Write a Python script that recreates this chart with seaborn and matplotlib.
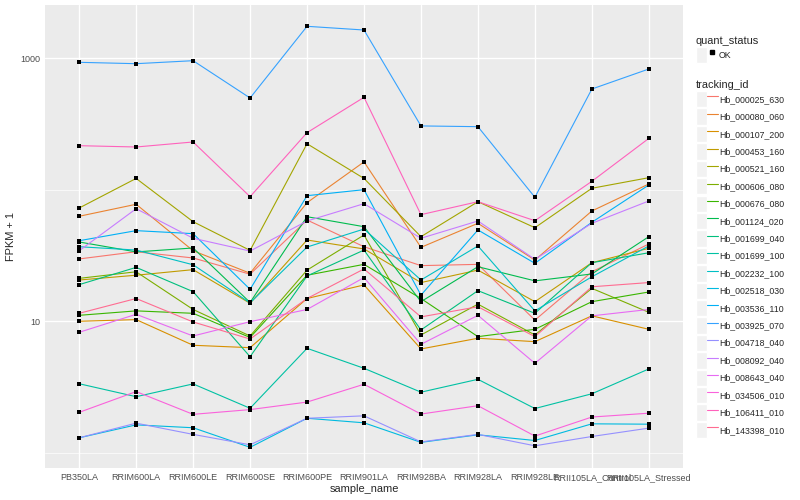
import pandas as pd
import matplotlib.pyplot as plt
import seaborn as sns
from matplotlib.lines import Line2D
from matplotlib.patches import Patch
from matplotlib.legend_handler import HandlerTuple
from matplotlib.ticker import FixedLocator, NullFormatter

# samples on the x axis
samples = ["PB350LA", "RRIM600LA", "RRIM600LE", "RRIM600SE", "RRIM600PE", "RRIM901LA",
           "RRIM928BA", "RRIM928LA", "RRIM928LE", "RRII105LA_Control", "RRII105LA_Stressed"]

tracking_ids = ["Hb_000025_630", "Hb_000080_060", "Hb_000107_200", "Hb_000453_160",
                "Hb_000521_160", "Hb_000606_080", "Hb_000676_080", "Hb_001124_020",
                "Hb_001699_040", "Hb_001699_100", "Hb_002232_100", "Hb_002518_030",
                "Hb_003536_110", "Hb_003925_070", "Hb_004718_040", "Hb_008092_040",
                "Hb_008643_040", "Hb_034506_010", "Hb_106411_010", "Hb_143398_010"]

# ggplot default hue palette for 20 levels
palette = ["#F8766D", "#EA8331", "#D89000", "#C09B00", "#A3A500", "#7CAE00", "#39B600",
           "#00BB4E", "#00BF7D", "#00C1A3", "#00BFC4", "#00BAE0", "#00B0F6", "#35A2FF",
           "#9590FF", "#C77CFF", "#E76BF3", "#FA62DB", "#FF62BC", "#FF6C91"]

# FPKM + 1 values, one list per gene (same order as samples)
hb_000025_630 = [29.8, 33.8, 30.3, 22.8, 58.9, 36.9, 26.5, 27.1, 10.2, 23.8, 38.7]
hb_000080_060 = [62.9, 77.6, 34.4, 23.2, 79.8, 163, 36.5, 55.6, 29.2, 69.0, 110.7]
hb_000107_200 = [10.0, 10.3, 6.57, 6.30, 14.9, 18.9, 6.16, 7.43, 7.0, 11.0, 8.69]
hb_000453_160 = [20.6, 22.4, 24.7, 13.7, 41.5, 35.5, 19.7, 24.5, 14.1, 27.9, 35.9]
hb_000521_160 = [72.7, 122, 57.2, 34.6, 224, 122, 44.0, 81.2, 51.5, 102.7, 123.6]
hb_000606_080 = [21.2, 23.8, 12.3, 7.73, 24.5, 45.3, 7.87, 13.5, 7.87, 17.8, 11.7]
hb_000676_080 = [11.1, 12.0, 11.5, 7.53, 22.4, 27.1, 14.9, 7.64, 8.69, 14.1, 16.7]
hb_001124_020 = [40.1, 33.7, 36.1, 13.9, 62.4, 52.4, 14.1, 26.0, 20.3, 22.9, 44.0]
hb_001699_040 = [19.0, 25.7, 16.8, 5.38, 22.1, 34.8, 8.59, 17.1, 11.5, 27.9, 33.2]
hb_001699_100 = [3.35, 2.67, 3.34, 2.18, 6.23, 4.39, 2.89, 3.62, 2.17, 2.81, 4.34]
hb_002232_100 = [36.9, 34.8, 26.9, 13.8, 36.7, 50.3, 20.6, 37.4, 12.0, 21.8, 37.4]
hb_002518_030 = [1.30, 1.63, 1.55, 1.10, 1.83, 1.69, 1.20, 1.37, 1.24, 1.66, 1.65]
hb_003536_110 = [41.0, 48.9, 46.4, 17.5, 90.2, 100.2, 15.8, 49.5, 27.6, 56.6, 108.8]
hb_003925_070 = [932, 910, 959, 499, 1751, 1641, 306, 302, 87.7, 584, 829]
hb_004718_040 = [1.30, 1.68, 1.38, 1.15, 1.83, 1.91, 1.21, 1.38, 1.13, 1.33, 1.54]
hb_008092_040 = [34.4, 71.8, 42.8, 34.2, 57.9, 78.4, 42.8, 57.9, 29.6, 55.6, 82.2]
hb_008643_040 = [8.25, 11.3, 7.73, 9.93, 12.3, 21.5, 6.68, 11.1, 4.79, 11.0, 12.3]
hb_034506_010 = [2.03, 2.92, 1.96, 2.13, 2.43, 3.32, 1.97, 2.28, 1.34, 1.87, 2.00]
hb_106411_010 = [216.5, 211.6, 231, 88.6, 272, 505, 64.7, 81.2, 58.2, 116, 246]
hb_143398_010 = [11.5, 14.9, 9.88, 7.33, 14.9, 25.0, 10.8, 12.9, 7.64, 18.3, 19.7]

series = [hb_000025_630, hb_000080_060, hb_000107_200, hb_000453_160, hb_000521_160,
          hb_000606_080, hb_000676_080, hb_001124_020, hb_001699_040, hb_001699_100,
          hb_002232_100, hb_002518_030, hb_003536_110, hb_003925_070, hb_004718_040,
          hb_008092_040, hb_008643_040, hb_034506_010, hb_106411_010, hb_143398_010]

rows = []
for tid, vals in zip(tracking_ids, series):
    for s, v in zip(samples, vals):
        rows.append({"tracking_id": tid, "sample_name": s, "fpkm": v, "quant_status": "OK"})
df = pd.DataFrame(rows)

sns.set_style("darkgrid", {"axes.facecolor": "#EBEBEB", "grid.color": "white"})
plt.rcParams["font.family"] = ["Liberation Sans", "DejaVu Sans"]

fig = plt.figure(figsize=(8, 5), dpi=100)
ax = fig.add_axes([45 / 800, 32 / 500, 638 / 800, 463 / 500])

sns.lineplot(data=df, x="sample_name", y="fpkm", hue="tracking_id", hue_order=tracking_ids,
             palette=palette, estimator=None, sort=False, linewidth=0.8, ax=ax, legend=False)
sns.scatterplot(data=df, x="sample_name", y="fpkm", color="black", marker="s", s=6,
                linewidth=0, ax=ax, legend=False, zorder=3)

ax.set_yscale("log")
ax.set_xlim(-0.6, len(samples) - 0.4)
ax.set_ylim(0.766, 2543)
ax.set_yticks([10, 1000])
ax.set_yticklabels(["10", "1000"])
ax.yaxis.set_minor_locator(FixedLocator([1, 100]))
ax.yaxis.set_minor_formatter(NullFormatter())

ax.grid(True, which="major", color="white", linewidth=1.0)
ax.grid(True, which="minor", axis="y", color="white", linewidth=0.5)
for sp in ax.spines.values():
    sp.set_visible(False)

ax.tick_params(axis="both", which="major", length=2, width=0.7, color="#333333",
               labelsize=6.5, labelcolor="#4D4D4D", pad=1.5)
ax.tick_params(axis="y", which="minor", length=0)
ax.set_xlabel("sample_name", fontsize=7.9, labelpad=1.5)
ax.set_ylabel("FPKM + 1", fontsize=7.9, labelpad=3)

# legends in ggplot style
key_bg = dict(facecolor="#F2F2F2", edgecolor="white", linewidth=1)
leg_kw = dict(loc="upper left", frameon=False, fontsize=6.3, title_fontsize=7.9,
              alignment="left", handlelength=2.5, handleheight=2.5, handletextpad=0.1,
              borderpad=0, borderaxespad=0, labelspacing=0.12,
              handler_map={tuple: HandlerTuple(ndivide=None, pad=0)})

qs_handles = [(Patch(**key_bg), Line2D([], [], marker="s", color="black", linestyle="", markersize=2.4))]
leg1 = fig.legend(qs_handles, ["OK"], title="quant_status",
                  bbox_to_anchor=(696 / 800, 1 - 36 / 500), **leg_kw)

tid_handles = [(Patch(**key_bg), Line2D([], [], color=c, linewidth=0.8)) for c in palette]
leg2 = fig.legend(tid_handles, tracking_ids, title="tracking_id",
                  bbox_to_anchor=(696 / 800, 1 - 80 / 500), **leg_kw)

fig.savefig("out.png", dpi=100)
